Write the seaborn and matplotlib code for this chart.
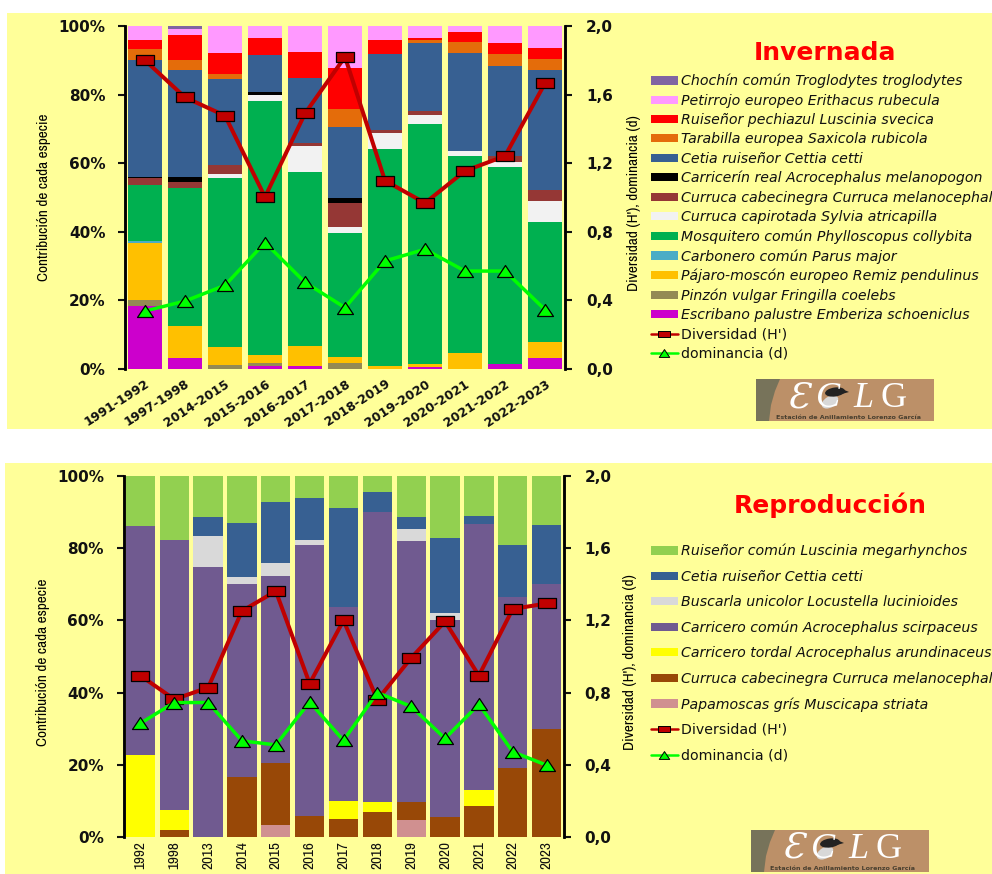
import numpy as np
import matplotlib
matplotlib.use("Agg")
import matplotlib.pyplot as plt
from matplotlib.font_manager import fontManager
from matplotlib.lines import Line2D
from matplotlib.patches import Patch, Polygon, Rectangle, Ellipse
from matplotlib.path import Path
import seaborn as sns

W, H = 992, 874

# --- Invernada (winter) ---
periodos = ["1991-1992", "1997-1998", "2014-2015", "2015-2016", "2016-2017", "2017-2018",
            "2018-2019", "2019-2020", "2020-2021", "2021-2022", "2022-2023"]
escribano = [18.3, 3.1, 0, 0.8, 0.8, 0, 0, 0.5, 0, 1.6, 3.1]
pinzon = [1.7, 0, 1.2, 0.9, 0, 1.7, 0, 0, 0, 0, 0]
pajaro = [16.7, 9.5, 5.1, 2.5, 5.8, 1.7, 0.8, 0.9, 4.6, 0, 4.9]
carbonero = [0.6, 0, 0, 0, 0, 0, 0, 0, 0, 0, 0]
mosquitero = [16.2, 40.3, 49.3, 73.9, 50.8, 36.2, 63.3, 69.9, 57.4, 57.2, 34.8]
capirotada = [0, 0, 1.3, 1.8, 7.6, 1.7, 4.8, 2.8, 1.6, 1.6, 6.3]
cabecinegra_inv = [2.2, 1.7, 2.5, 0, 1.0, 7.0, 0.9, 1.2, 0, 1.8, 3.1]
carricerin = [0.3, 1.3, 0, 0.9, 0, 1.6, 0, 0, 0, 0, 0]
cetia_inv = [34.1, 31.4, 25.1, 10.6, 18.8, 20.7, 22.1, 19.8, 28.6, 26.1, 35.0]
tarabilla = [3.2, 2.7, 1.4, 0, 0, 5.1, 0, 0.9, 3.2, 3.4, 3.1]
pechiazul = [2.5, 7.4, 6.3, 5.0, 7.5, 12.0, 3.9, 0.5, 2.8, 3.2, 3.2]
petirrojo = [4.2, 1.7, 7.8, 3.6, 7.7, 12.3, 4.2, 3.5, 1.8, 5.1, 6.5]
chochin = [0, 0.9, 0, 0, 0, 0, 0, 0, 0, 0, 0]
div_inv = [1.80, 1.584, 1.477, 1.003, 1.49, 1.82, 1.098, 0.968, 1.155, 1.242, 1.666]
dom_inv = [0.338, 0.396, 0.488, 0.737, 0.505, 0.358, 0.63, 0.698, 0.571, 0.571, 0.346]

# --- Reproduccion (breeding) ---
anios = ["1992", "1998", "2013", "2014", "2015", "2016", "2017", "2018", "2019", "2020", "2021", "2022", "2023"]
papamoscas = [0, 0, 0, 0, 3.3, 0, 0, 0, 4.8, 0, 0, 0, 0]
cabecinegra_rep = [0, 2.0, 0, 16.5, 17.3, 5.8, 4.9, 6.9, 4.8, 5.5, 8.5, 19.0, 29.9]
tordal = [22.7, 5.6, 0, 0, 0, 0, 5.1, 2.9, 0, 0, 4.4, 0, 0]
comun = [63.5, 74.6, 74.7, 53.7, 51.7, 75.1, 53.6, 80.3, 72.5, 54.7, 73.9, 47.6, 40.1]
buscarla = [0, 0, 8.6, 1.9, 3.5, 1.3, 0, 0, 3.2, 1.9, 0, 0, 0]
cetia_rep = [0, 0, 5.3, 14.8, 17.1, 11.7, 27.5, 5.5, 3.3, 20.7, 2.1, 14.2, 16.5]
ruisenor = [13.8, 17.8, 11.4, 13.1, 7.1, 6.1, 8.9, 4.4, 11.4, 17.2, 11.1, 19.2, 13.5]
div_rep = [0.894, 0.763, 0.828, 1.252, 1.362, 0.85, 1.2, 0.76, 0.992, 1.194, 0.894, 1.263, 1.294]
dom_rep = [0.63, 0.745, 0.745, 0.533, 0.51, 0.748, 0.535, 0.80, 0.723, 0.546, 0.735, 0.472, 0.398]

pct_ticks = [0, 20, 40, 60, 80, 100]
pct_labels = ["0%", "20%", "40%", "60%", "80%", "100%"]
idx_ticks = [0, 0.4, 0.8, 1.2, 1.6, 2.0]
idx_labels = ["0,0", "0,4", "0,8", "1,2", "1,6", "2,0"]

# bottom to top: (values, colour, legend label)
serie_inv = [
    (escribano, "#CC00CC", "Escribano palustre Emberiza schoeniclus"),
    (pinzon, "#948A54", "Pinzón vulgar Fringilla coelebs"),
    (pajaro, "#FFC000", "Pájaro-moscón europeo Remiz pendulinus"),
    (carbonero, "#4BACC6", "Carbonero común Parus major"),
    (mosquitero, "#00B050", "Mosquitero común Phylloscopus collybita"),
    (capirotada, "#F2F2F2", "Curruca capirotada Sylvia atricapilla"),
    (cabecinegra_inv, "#953735", "Curruca cabecinegra Curruca melanocephala"),
    (carricerin, "#000000", "Carricerín real Acrocephalus melanopogon"),
    (cetia_inv, "#376092", "Cetia ruiseñor Cettia cetti"),
    (tarabilla, "#E46C0A", "Tarabilla europea Saxicola rubicola"),
    (pechiazul, "#FF0000", "Ruiseñor pechiazul Luscinia svecica"),
    (petirrojo, "#FF99FF", "Petirrojo europeo Erithacus rubecula"),
    (chochin, "#8064A2", "Chochín común Troglodytes troglodytes"),
]
serie_rep = [
    (papamoscas, "#D09090", "Papamoscas grís Muscicapa striata"),
    (cabecinegra_rep, "#984807", "Curruca cabecinegra Curruca melanocephala"),
    (tordal, "#FFFF00", "Carricero tordal Acrocephalus arundinaceus"),
    (comun, "#705A90", "Carricero común Acrocephalus scirpaceus"),
    (buscarla, "#D9D9D9", "Buscarla unicolor Locustella lucinioides"),
    (cetia_rep, "#376092", "Cetia ruiseñor Cettia cetti"),
    (ruisenor, "#92D050", "Ruiseñor común Luscinia megarhynchos"),
]

BG = "#FFFF99"
RED = "#C00000"
GREEN = "#00FF00"

sns.set_theme(style="ticks")
plt.rcParams["font.family"] = ["DejaVu Sans"]

# narrowest face we can find for the axis titles
names = {f.name for f in fontManager.ttflist}
cond = {f.name for f in fontManager.ttflist if f.stretch == "condensed" or f.stretch == 75}
NARROW = "Liberation Sans Narrow" if "Liberation Sans Narrow" in names else (sorted(cond)[0] if cond else "Roboto")
STRETCH = "condensed" if NARROW in cond else "normal"

# flat markers, wider than tall like the original
flat_box = Path([(-1, -0.6), (1, -0.6), (1, 0.6), (-1, 0.6), (-1, -0.6)], closed=True)
flat_tri = Path([(-1, -0.75), (1, -0.75), (0, 0.75), (-1, -0.75)], closed=True)


def box(x0, y0, x1, y1):
    # pixel box (top-left origin) to figure fractions
    return [x0 / W, 1 - y1 / H, (x1 - x0) / W, (y1 - y0) / H]


def panel(fig, rect, cats, series, div, dom):
    ax = fig.add_axes(rect)
    ax.patch.set_alpha(0)
    bottom = np.zeros(len(cats))
    for vals, col, _ in series:
        sns.barplot(x=cats, y=vals, bottom=bottom, color=col, saturation=1, width=0.865,
                    linewidth=0, ax=ax, errorbar=None)
        bottom = bottom + np.array(vals)
    ax.set_xlim(-0.5, len(cats) - 0.5)
    ax.set_ylim(0, 100)
    ax.set_yticks(pct_ticks, pct_labels, fontweight="bold", fontsize=11)
    ax.tick_params(axis="y", length=5, width=1.5, pad=9, colors="#111111")
    ax.tick_params(axis="x", length=0)

    ax2 = ax.twinx()
    ax2.patch.set_alpha(0)
    xs = np.arange(len(cats))
    sns.lineplot(x=xs, y=div, ax=ax2, color=RED, lw=2.9, marker=flat_box, markersize=12.5,
                 markeredgecolor="black", markeredgewidth=0.9, markerfacecolor=RED, errorbar=None)
    sns.lineplot(x=xs, y=dom, ax=ax2, color=GREEN, lw=2.5, marker=flat_tri, markersize=11.5,
                 markeredgecolor="black", markeredgewidth=0.9, markerfacecolor=GREEN, errorbar=None)
    ax2.set_ylim(0, 2)
    ax2.set_yticks(idx_ticks, idx_labels, fontweight="bold", fontsize=11)
    ax2.tick_params(axis="y", length=5, width=1.5, pad=10, colors="#111111")
    for a in (ax, ax2):
        a.spines["top"].set_visible(False)
        a.spines["bottom"].set_visible(False)
        a.spines["left"].set_linewidth(1.8)
        a.spines["right"].set_linewidth(1.8)
        a.spines["left"].set_color("black")
        a.spines["right"].set_color("black")
    ax.set_ylabel("")
    return ax, ax2


def legend(fig, series, x, y, spacing):
    hs = [Patch(facecolor=c, edgecolor="none", label=l) for _, c, l in reversed(series)]
    hs.append(Line2D([], [], color=RED, lw=1.8, marker=flat_box, ms=8, mfc=RED, mec="black",
                     mew=0.7, label="Diversidad (H')"))
    hs.append(Line2D([], [], color=GREEN, lw=1.8, marker=flat_tri, ms=7.5, mfc=GREEN, mec="black",
                     mew=0.7, label="dominancia (d)"))
    leg = fig.legend(handles=hs, loc="upper left", bbox_to_anchor=(x / W, 1 - y / H),
                     frameon=False, fontsize=10.2, borderaxespad=0, borderpad=0,
                     handlelength=1.9, handleheight=0.5, handletextpad=0.2, labelspacing=spacing)
    for t in leg.get_texts()[:-2]:
        t.set_fontstyle("italic")
    for t in leg.get_texts():
        t.set_color("#111111")


def logo(fig, rect):
    a = fig.add_axes(rect)
    a.set_xlim(0, 178)
    a.set_ylim(42, 0)
    a.axis("off")
    a.add_patch(Rectangle((0, 0), 178, 42, fc="#BC9068", ec="none"))
    a.add_patch(Polygon([(0, 0), (24, 0), (19, 12), (15, 26), (13, 42), (0, 42)], fc="#77735A", ec="none"))
    a.text(42, 28, "Ɛ", color="white", fontsize=26, family="DejaVu Serif", style="italic", ha="center", va="baseline")
    a.text(72, 28, "C", color="white", fontsize=26, family="Liberation Serif", style="italic", ha="center", va="baseline")
    a.add_patch(Ellipse((74, 23), 18, 11, angle=-30, fc="#D8D8D8", ec="none"))
    a.add_patch(Ellipse((79, 13), 20, 9, angle=-8, fc="#222222", ec="none"))
    a.add_patch(Polygon([(86, 10), (93, 13), (86, 15)], fc="#222222", ec="none"))
    a.text(107, 28, "L", color="white", fontsize=26, family="Liberation Serif", style="italic", ha="center", va="baseline")
    a.text(138, 28, "G", color="white", fontsize=26, family="Liberation Serif", ha="center", va="baseline")
    a.text(92, 38.5, "Estación de Anillamiento Lorenzo García", color="#4A4030", fontsize=4.6,
           fontweight="bold", ha="center", va="center")


fig = plt.figure(figsize=(W / 100, H / 100), dpi=100, facecolor="white")
fig.add_artist(Rectangle((7 / W, 1 - 429 / H), (W - 7) / W, (429 - 13) / H, transform=fig.transFigure,
                         fc=BG, ec="none", zorder=-5))
fig.add_artist(Rectangle((5 / W, 0), (W - 5) / W, (H - 463) / H, transform=fig.transFigure,
                         fc=BG, ec="none", zorder=-5))

# top panel
ax, _ = panel(fig, box(125, 26, 565, 369), periodos, serie_inv, div_inv, dom_inv)
ax.set_xticks(range(len(periodos)), periodos, rotation=33, ha="right", rotation_mode="anchor",
              fontsize=9, fontweight="bold", color="#111111")
ax.tick_params(axis="x", pad=6)

# bottom panel
ax, _ = panel(fig, box(123.5, 476, 563.5, 837), anios, serie_rep, div_rep, dom_rep)
ax.set_xticks(range(len(anios)), anios, rotation=90, fontsize=11, fontweight="bold",
              family=NARROW, stretch=STRETCH, color="#111111")
ax.tick_params(axis="x", pad=3)

# axis titles, condensed font like the original
for x, y, txt in [(44, 197, "Contribución de cada especie"), (634, 203, "Diversidad (H'), dominancia (d)"),
                  (43, 662, "Contribución de cada especie"), (630, 662, "Diversidad (H'), dominancia (d)")]:
    fig.text(x / W, 1 - y / H, txt, rotation=90, ha="center", va="center",
             fontsize=11, family=NARROW, stretch=STRETCH, color="black")

fig.text(825 / W, 1 - 53 / H, "Invernada", color="#FF0000", fontsize=18, fontweight="bold", ha="center", va="center")
fig.text(830 / W, 1 - 505 / H, "Reproducción", color="#FF0000", fontsize=18, fontweight="bold", ha="center", va="center")

legend(fig, serie_inv, 651, 74, 0.373)
legend(fig, serie_rep, 651, 544, 0.8)

logo(fig, box(756, 379, 934, 421))
logo(fig, box(751, 830, 929, 872))

fig.savefig("out.png", dpi=100, facecolor="white")
